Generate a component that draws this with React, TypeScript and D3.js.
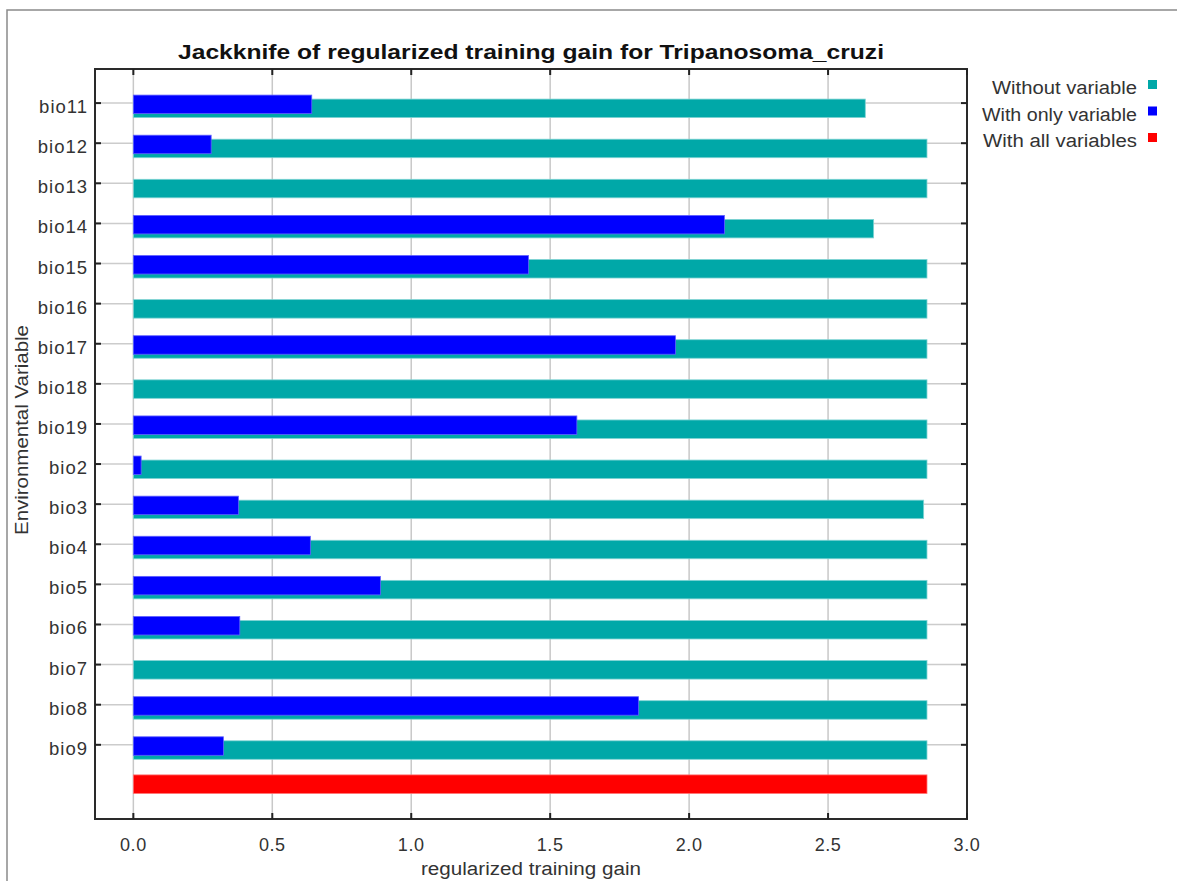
import React, { useEffect, useRef } from "react";
import * as d3 from "d3";

// jackknife results
const categories = [
  "bio11", "bio12", "bio13", "bio14", "bio15", "bio16", "bio17", "bio18", "bio19",
  "bio2", "bio3", "bio4", "bio5", "bio6", "bio7", "bio8", "bio9",
];
const withoutVariable = [
  2.634, 2.856, 2.856, 2.664, 2.856, 2.856, 2.856, 2.856, 2.856,
  2.856, 2.844, 2.856, 2.856, 2.856, 2.856, 2.856, 2.856,
];
const withOnlyVariable = [
  0.642, 0.28, 0, 2.127, 1.422, 0, 1.951, 0, 1.596,
  0.028, 0.378, 0.637, 0.889, 0.383, 0, 1.818, 0.324,
];
const withAllVariables = 2.856;
const xTicks = [0, 0.5, 1.0, 1.5, 2.0, 2.5, 3.0];
const legendLabels = ["Without variable", "With only variable", "With all variables"];

const TEAL = "#00a8a8";
const BLUE = "#0000ff";
const RED = "#ff0000";
const FONT = "'Liberation Sans', Arial, sans-serif";

const App = () => {
  const svgRef = useRef(null);

  useEffect(() => {
    const width = 1177;
    const height = 881;
    const plot = { left: 95, right: 967, top: 69, bottom: 819 };

    d3.select(svgRef.current).selectAll("*").remove();
    const svg = d3.select(svgRef.current).attr("width", width).attr("height", height);

    svg.append("rect").attr("width", width).attr("height", height).attr("fill", "#fff");
    // outer frame
    svg
      .append("rect")
      .attr("x", 7)
      .attr("y", 10)
      .attr("width", width + 10)
      .attr("height", height + 10)
      .attr("fill", "none")
      .attr("stroke", "#8a8a8a")
      .attr("stroke-width", 1.5);

    const rows = [...categories, "__all"];
    const y = d3.scalePoint().domain(rows).range([plot.top, plot.bottom]).padding(0.85);
    const x = d3.scaleLinear().domain([-0.138, 3.0]).range([plot.left, plot.right]);

    const g = svg.append("g");

    // grid
    g.selectAll(".vgrid")
      .data(xTicks)
      .enter()
      .append("line")
      .attr("x1", (d) => x(d))
      .attr("x2", (d) => x(d))
      .attr("y1", plot.top)
      .attr("y2", plot.bottom)
      .attr("stroke", "#c8c8c8")
      .attr("stroke-width", 1.5);
    g.selectAll(".hgrid")
      .data(categories)
      .enter()
      .append("line")
      .attr("x1", plot.left)
      .attr("x2", plot.right)
      .attr("y1", (d) => y(d))
      .attr("y2", (d) => y(d))
      .attr("stroke", "#cccccc")
      .attr("stroke-width", 1.5);

    const barH = 18.5;
    // without variable (behind)
    g.selectAll(".without")
      .data(categories)
      .enter()
      .append("rect")
      .attr("x", x(0))
      .attr("y", (d) => y(d) - 4)
      .attr("width", (d, i) => x(withoutVariable[i]) - x(0))
      .attr("height", barH)
      .attr("fill", TEAL)
      .attr("stroke", "#7fd3d3")
      .attr("stroke-width", 0.8);
    // with only variable
    g.selectAll(".only")
      .data(categories.filter((d, i) => withOnlyVariable[i] > 0))
      .enter()
      .append("rect")
      .attr("x", x(0))
      .attr("y", (d) => y(d) - 8)
      .attr("width", (d) => x(withOnlyVariable[categories.indexOf(d)]) - x(0))
      .attr("height", barH)
      .attr("fill", BLUE)
      .attr("stroke", "#6060ff")
      .attr("stroke-width", 0.8);
    // with all variables
    g.append("rect")
      .attr("x", x(0))
      .attr("y", y("__all") - 10)
      .attr("width", x(withAllVariables) - x(0))
      .attr("height", barH)
      .attr("fill", RED)
      .attr("stroke", "#ff7070")
      .attr("stroke-width", 0.8);

    // frame of the plot
    g.append("rect")
      .attr("x", plot.left)
      .attr("y", plot.top)
      .attr("width", plot.right - plot.left)
      .attr("height", plot.bottom - plot.top)
      .attr("fill", "none")
      .attr("stroke", "#2a2a2a")
      .attr("stroke-width", 2);

    // inside ticks on all four sides
    const tickLen = 6;
    xTicks.forEach((t) => {
      g.append("line").attr("x1", x(t)).attr("x2", x(t)).attr("y1", plot.top).attr("y2", plot.top + tickLen)
        .attr("stroke", "#222").attr("stroke-width", 2);
      g.append("line").attr("x1", x(t)).attr("x2", x(t)).attr("y1", plot.bottom).attr("y2", plot.bottom - tickLen)
        .attr("stroke", "#222").attr("stroke-width", 2);
    });
    categories.forEach((c) => {
      g.append("line").attr("x1", plot.left).attr("x2", plot.left + tickLen).attr("y1", y(c)).attr("y2", y(c))
        .attr("stroke", "#222").attr("stroke-width", 2);
      g.append("line").attr("x1", plot.right).attr("x2", plot.right - tickLen).attr("y1", y(c)).attr("y2", y(c))
        .attr("stroke", "#222").attr("stroke-width", 2);
    });

    // tick labels
    g.selectAll(".xlab")
      .data(xTicks)
      .enter()
      .append("text")
      .attr("x", (d) => x(d))
      .attr("y", 851)
      .attr("text-anchor", "middle")
      .attr("font-family", FONT)
      .attr("font-size", 18)
      .attr("letter-spacing", 0.6)
      .attr("fill", "#333")
      .text((d) => d3.format(".1f")(d));
    g.selectAll(".ylab")
      .data(categories)
      .enter()
      .append("text")
      .attr("x", 88)
      .attr("y", (d) => y(d) + 10)
      .attr("text-anchor", "end")
      .attr("font-family", FONT)
      .attr("font-size", 18.5)
      .attr("letter-spacing", 1)
      .attr("fill", "#333")
      .text((d) => d);

    // titles
    svg
      .append("text")
      .attr("x", (plot.left + plot.right) / 2)
      .attr("y", 59)
      .attr("text-anchor", "middle")
      .attr("font-family", FONT)
      .attr("font-size", 20)
      .attr("font-weight", "bold")
      .attr("textLength", 706)
      .attr("lengthAdjust", "spacingAndGlyphs")
      .attr("fill", "#111")
      .text("Jackknife of regularized training gain for Tripanosoma_cruzi");
    svg
      .append("text")
      .attr("x", (plot.left + plot.right) / 2)
      .attr("y", 875)
      .attr("text-anchor", "middle")
      .attr("font-family", FONT)
      .attr("font-size", 18)
      .attr("textLength", 220)
      .attr("lengthAdjust", "spacingAndGlyphs")
      .attr("fill", "#333")
      .text("regularized training gain");
    svg
      .append("text")
      .attr("transform", "translate(28,430) rotate(-90)")
      .attr("text-anchor", "middle")
      .attr("font-family", FONT)
      .attr("font-size", 18)
      .attr("textLength", 210)
      .attr("lengthAdjust", "spacingAndGlyphs")
      .attr("fill", "#333")
      .text("Environmental Variable");

    // legend
    const legendColors = [TEAL, BLUE, RED];
    const legend = svg.append("g");
    legendLabels.forEach((label, i) => {
      const base = 94 + i * 26.5;
      legend
        .append("text")
        .attr("x", 1137)
        .attr("y", base)
        .attr("text-anchor", "end")
        .attr("font-family", FONT)
        .attr("font-size", 18)
        .attr("textLength", i === 0 ? 145 : i === 1 ? 155 : 154)
        .attr("lengthAdjust", "spacingAndGlyphs")
        .attr("fill", "#333")
        .text(label);
      legend
        .append("rect")
        .attr("x", 1148)
        .attr("y", base - 14)
        .attr("width", 9)
        .attr("height", 9)
        .attr("fill", legendColors[i]);
    });
  }, []);

  return (
    <div style={{ position: "absolute", left: 0, top: 0 }}>
      <svg ref={svgRef} style={{ display: "block" }}></svg>
    </div>
  );
};

export default App;
